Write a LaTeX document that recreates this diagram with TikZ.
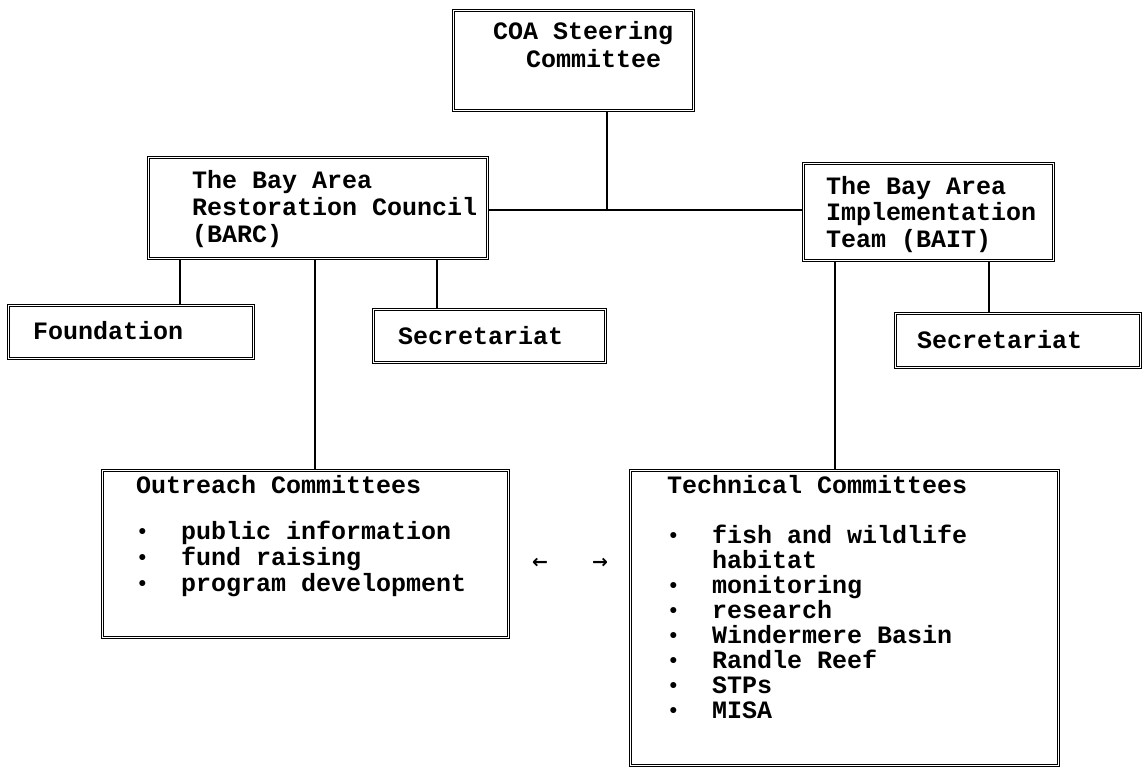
\documentclass[tikz,border=0pt]{standalone}
\usepackage{fontspec}
\newfontfamily\typefont{Liberation Mono}
\newfontfamily\symfont{DejaVu Sans}
\newcommand\orgfont{\typefont\bfseries\fontsize{25}{27}\selectfont}
% left-aligned stack of lines whose baseline is the first line's baseline
\newcommand\linestack[2]{\vtop{\baselineskip=#1\lineskiplimit=-\maxdimen\lineskip=0pt\halign{##\hfil\cr#2\crcr}}}
\newcommand\bitem[1]{\makebox[45pt][l]{\raisebox{1pt}{\fontsize{21}{21}\selectfont•}}#1}
\newcommand\bcont[1]{\makebox[45pt][l]{}#1}

\begin{document}
\begin{tikzpicture}[x=1pt,y=-1pt,
  orgbox/.style={draw, double, line width=1.2pt, double distance=1pt,
                 rectangle, inner sep=0pt, anchor=north west},
  txt/.style={anchor=base west, inner sep=0pt, font=\orgfont},
  wire/.style={line width=1.3pt},
  arrowglyph/.style={inner sep=0pt, font={\symfont\bfseries\fontsize{19}{19}\selectfont}}]

\fill[white] (0,0) rectangle (1144,773);
\path[use as bounding box] (0,0) rectangle (1144,773);

% boxes
\node[orgbox, minimum width=240pt, minimum height=100pt] (coa)  at (453,10)  {};
\node[orgbox, minimum width=339pt, minimum height=101pt] (barc) at (148,157) {};
\node[orgbox, minimum width=250pt, minimum height=97pt]  (bait) at (803,163) {};
\node[orgbox, minimum width=245pt, minimum height=53pt]  (found) at (8,305)  {};
\node[orgbox, minimum width=232pt, minimum height=53pt]  (secl) at (373,309) {};
\node[orgbox, minimum width=245pt, minimum height=54pt]  (secr) at (895,313) {};
\node[orgbox, minimum width=406pt, minimum height=167pt] (outr) at (102,470) {};
\node[orgbox, minimum width=428pt, minimum height=295pt] (tech) at (630,470) {};

% texts
\node[txt] (coatxt) at (493,40) {\linestack{28pt}{COA Steering\cr\hspace*{33pt}Committee}};
\node[txt] (barctxt) at (192,189) {\linestack{27pt}{The Bay Area\cr Restoration Council\cr (BARC)}};
\node[txt] (baittxt) at (826,194) {\linestack{27pt}{The Bay Area\cr Implementation\cr Team (BAIT)}};
\node[txt] (foundtxt) at (33,339) {Foundation};
\node[txt] (secltxt) at (398,344) {Secretariat};
\node[txt] (secrtxt) at (917,348) {Secretariat};
\node[txt] (outrhead) at (136,493) {Outreach Committees};
\node[txt] (outrlist) at (136,539) {\linestack{26pt}{\bitem{public information}\cr\bitem{fund raising}\cr\bitem{program development}}};
\node[txt] (techhead) at (667,493) {Technical Committees};
\node[txt] (techlist) at (667,543) {\linestack{25pt}{\bitem{fish and wildlife}\cr\bcont{habitat}\cr\bitem{monitoring}\cr\bitem{research}\cr\bitem{Windermere Basin}\cr\bitem{Randle Reef}\cr\bitem{STPs}\cr\bitem{MISA}}};

% arrows between the committee boxes
\node[arrowglyph] (larr) at (540,563) {←};
\node[arrowglyph] (rarr) at (600,563) {→};

% connectors
\coordinate (hub) at (607,210);
\draw[wire] (coa.south -| hub) -- (hub);
\draw[wire] (barc.east |- hub) -- (bait.west |- hub);
\draw[wire] (barc.south -| 180,0) -- (found.north -| 180,0);
\draw[wire] (barc.south -| 315,0) -- (outr.north -| 315,0);
\draw[wire] (barc.south -| 437,0) -- (secl.north -| 437,0);
\draw[wire] (bait.south -| 835,0) -- (tech.north -| 835,0);
\draw[wire] (bait.south -| 989,0) -- (secr.north -| 989,0);
\end{tikzpicture}
\end{document}
